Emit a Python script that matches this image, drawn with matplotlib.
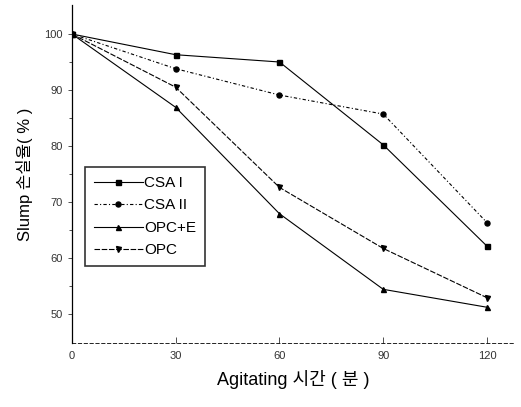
import matplotlib.pyplot as plt

plt.rcParams["font.family"] = ["Liberation Sans", "Noto Sans CJK KR"]

minutes = [0, 30, 60, 90, 120]
csa_1 = [100, 96.3, 95.0, 80.2, 62.1]
csa_2 = [100, 93.8, 89.1, 85.7, 66.3]
opc_e = [100, 86.9, 67.9, 54.4, 51.2]
opc = [100, 90.5, 72.6, 61.7, 52.9]

series = [
    ("CSA I", csa_1, "s", "-"),
    ("CSA II", csa_2, "o", (0, (3, 2, 1, 2))),
    ("OPC+E", opc_e, "^", "-"),
    ("OPC", opc, "v", (0, (5, 1.5))),
]

fig = plt.figure(figsize=(5.21, 4.07), dpi=100)
axis = fig.add_axes([0.138, 0.157, 0.85, 0.831])

for label, values, marker, style in series:
    axis.plot(minutes, values, color="black", linestyle=style, linewidth=0.8,
              marker=marker, markersize=3.6, label=label)

axis.set_xlim(0, 128)
axis.set_ylim(44.8, 105.2)
axis.set_xticks(minutes)
axis.set_yticks([50, 60, 70, 80, 90, 100])
axis.set_yticks([55, 65, 75, 85, 95], minor=True)

axis.spines["top"].set_visible(False)
axis.spines["right"].set_visible(False)
axis.spines["bottom"].set_linestyle((0, (4, 3)))
axis.spines["bottom"].set_linewidth(0.6)
axis.spines["left"].set_linewidth(0.9)

axis.tick_params(axis="x", direction="in", length=4, width=0.6, labelsize=8, pad=6, colors="#333333")
axis.tick_params(axis="y", which="both", direction="out", length=3, width=0.6, labelsize=8, colors="#333333")
axis.tick_params(axis="y", which="minor", length=2)

axis.set_xlabel("Agitating 시간 ( 분 )", fontsize=13, labelpad=6)
axis.set_ylabel("Slump 손실율( % )", fontsize=12, labelpad=8)

legend = axis.legend(loc="upper left", bbox_to_anchor=(0.029, 0.521), fontsize=11,
                     frameon=True, fancybox=False, edgecolor="black", handlelength=3.2,
                     handletextpad=0.1, borderpad=0.6, labelspacing=0.55, borderaxespad=0)
legend.get_frame().set_linewidth(1.2)

fig.savefig("out.png", dpi=100)
